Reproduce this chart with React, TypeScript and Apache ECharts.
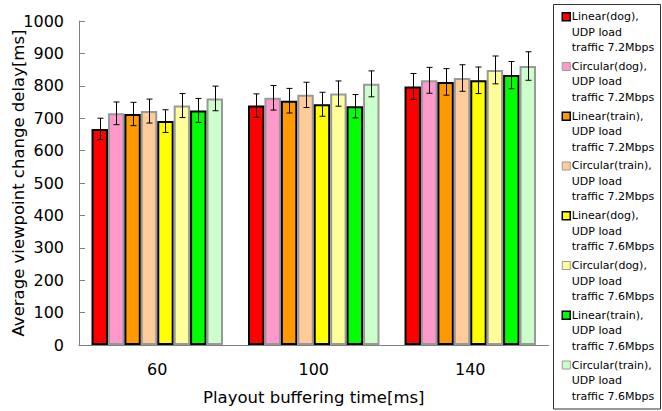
import React, { useEffect, useRef } from "react";
import * as echarts from "echarts";

const categories = ["60", "100", "140"];

const seriesNames = [
  "Linear(dog), UDP load traffic 7.2Mbps",
  "Circular(dog), UDP load traffic 7.2Mbps",
  "Linear(train), UDP load traffic 7.2Mbps",
  "Circular(train), UDP load traffic 7.2Mbps",
  "Linear(dog), UDP load traffic 7.6Mbps",
  "Circular(dog), UDP load traffic 7.6Mbps",
  "Linear(train), UDP load traffic 7.6Mbps",
  "Circular(train), UDP load traffic 7.6Mbps",
];

const linearDog72 = [667, 739, 798];
const circularDog72 = [715, 763, 817];
const linearTrain72 = [713, 754, 812];
const circularTrain72 = [722, 772, 824];
const linearDog76 = [691, 743, 817];
const circularDog76 = [739, 776, 849];
const linearTrain76 = [724, 737, 833];
const circularTrain76 = [761, 806, 861];

const errLinearDog72 = [33, 36, 40];
const errCircularDog72 = [35, 38, 40];
const errLinearTrain72 = [36, 38, 41];
const errCircularTrain72 = [37, 39, 41];
const errLinearDog76 = [35, 37, 41];
const errCircularDog76 = [37, 39, 43];
const errLinearTrain76 = [37, 36, 42];
const errCircularTrain76 = [38, 40, 44];

const yTicks = [0, 100, 200, 300, 400, 500, 600, 700, 800, 900, 1000];

const means = [
  linearDog72, circularDog72, linearTrain72, circularTrain72,
  linearDog76, circularDog76, linearTrain76, circularTrain76,
];
const errors = [
  errLinearDog72, errCircularDog72, errLinearTrain72, errCircularTrain72,
  errLinearDog76, errCircularDog76, errLinearTrain76, errCircularTrain76,
];
const fills = ["#FF0000", "#FF99CC", "#FF9900", "#FFCC99", "#FFFF00", "#FFFF99", "#00FF00", "#CCFFCC"];
const borders = ["#000000", "#999999", "#000000", "#999999", "#000000", "#999999", "#000000", "#999999"];
const iconBorderWidths = [1.5, 1, 1.5, 1, 1.5, 1, 1.5, 1];

const FONT = "DejaVu Sans";
const CAT_GAP = 0.16;

export default function App() {
  const ref = useRef<HTMLDivElement>(null);
  useEffect(() => {
    if (!ref.current) return;
    const chart = echarts.init(ref.current, null, { renderer: "svg" });
    const nBars = seriesNames.length;
    const barSeries = seriesNames.map((name, i) => ({
      name,
      type: "bar",
      data: means[i],
      barGap: "0%",
      barCategoryGap: CAT_GAP * 100 + "%",
      itemStyle: { color: fills[i], borderColor: borders[i], borderWidth: 2 },
      z: 2,
    }));
    const errData: number[][] = [];
    means.forEach((arr, si) => {
      arr.forEach((v, ci) => {
        errData.push([ci, si, v - errors[si][ci], v + errors[si][ci]]);
      });
    });
    const errSeries = {
      name: "errors",
      type: "custom",
      data: errData,
      encode: { x: 0, y: [2, 3] },
      z: 5,
      renderItem: (params: any, api: any) => {
        const ci = api.value(0);
        const si = api.value(1);
        const lo = api.coord([ci, api.value(2)]);
        const hi = api.coord([ci, api.value(3)]);
        const catW = api.size([1, 0])[0];
        const barW = (catW * (1 - CAT_GAP)) / nBars;
        const x = Math.round(lo[0] + (si - (nBars - 1) / 2) * barW) + 0.5;
        const cap = 3;
        const style = { stroke: "#000", lineWidth: 1 };
        return {
          type: "group",
          children: [
            { type: "line", shape: { x1: x, y1: lo[1], x2: x, y2: hi[1] }, style },
            { type: "line", shape: { x1: x - cap, y1: hi[1], x2: x + cap, y2: hi[1] }, style },
            { type: "line", shape: { x1: x - cap, y1: lo[1], x2: x + cap, y2: lo[1] }, style },
          ],
        };
      },
    };
    const iconPath = "path://M0,0h8v8h-8z M0,39";
    chart.setOption({
      animation: false,
      textStyle: { fontFamily: FONT },
      grid: {
        left: 79,
        top: 21,
        right: 113.5,
        bottom: 66,
        containLabel: false,
        outerBoundsMode: "none",
      },
      legend: {
        orient: "vertical",
        left: 561.5,
        top: 8.95,
        height: 2000,
        padding: 0,
        itemWidth: 8,
        itemHeight: 39,
        itemGap: 3.26,
        selectedMode: false,
        formatter: (name: string) => name.replace(", ", ",\n").replace(" traffic", "\ntraffic"),
        textStyle: {
          fontSize: 11,
          lineHeight: 15.5,
          color: "#000",
          fontFamily: FONT,
          padding: [0, 0, 0, -3.5],
        },
        data: seriesNames.map((name, i) => ({
          name,
          icon: iconPath,
          itemStyle: { color: fills[i], borderColor: borders[i], borderWidth: iconBorderWidths[i] },
        })),
      },
      graphic: [
        {
          type: "rect",
          shape: { x: 553.5, y: 4.5, width: 107, height: 404.5 },
          style: { fill: "none", stroke: "#333", lineWidth: 1 },
          z: 0,
        },
      ],
      xAxis: {
        type: "category",
        data: categories,
        name: "Playout buffering time[ms]",
        nameLocation: "middle",
        nameGap: 44,
        nameMoveOverlap: false,
        nameTextStyle: { fontSize: 16.5, color: "#000", fontFamily: FONT },
        axisLine: { lineStyle: { color: "#808080", width: 1 } },
        axisTick: { inside: true, length: 5, lineStyle: { color: "#808080" } },
        axisLabel: { fontSize: 16, color: "#000", margin: 16, fontFamily: FONT },
      },
      yAxis: {
        type: "value",
        min: 0,
        max: 1000,
        interval: 100,
        name: "Average viewpoint change delay[ms]",
        nameLocation: "middle",
        nameGap: 52,
        nameMoveOverlap: false,
        nameTextStyle: { fontSize: 16.5, color: "#000", fontFamily: FONT },
        axisLine: { show: true, lineStyle: { color: "#808080", width: 1 } },
        axisTick: { show: true, inside: true, length: 6, lineStyle: { color: "#808080" } },
        axisLabel: {
          fontSize: 16,
          color: "#000",
          margin: 15,
          fontFamily: FONT,
          formatter: (v: number) => (yTicks.includes(v) ? String(v) : ""),
        },
        splitLine: { show: false },
      },
      series: [...barSeries, errSeries],
    });
    return () => chart.dispose();
  }, []);
  return (
    <div
      ref={ref}
      style={{ position: "fixed", left: 0, top: 0, width: 662, height: 411, background: "#fff" }}
    />
  );
}
